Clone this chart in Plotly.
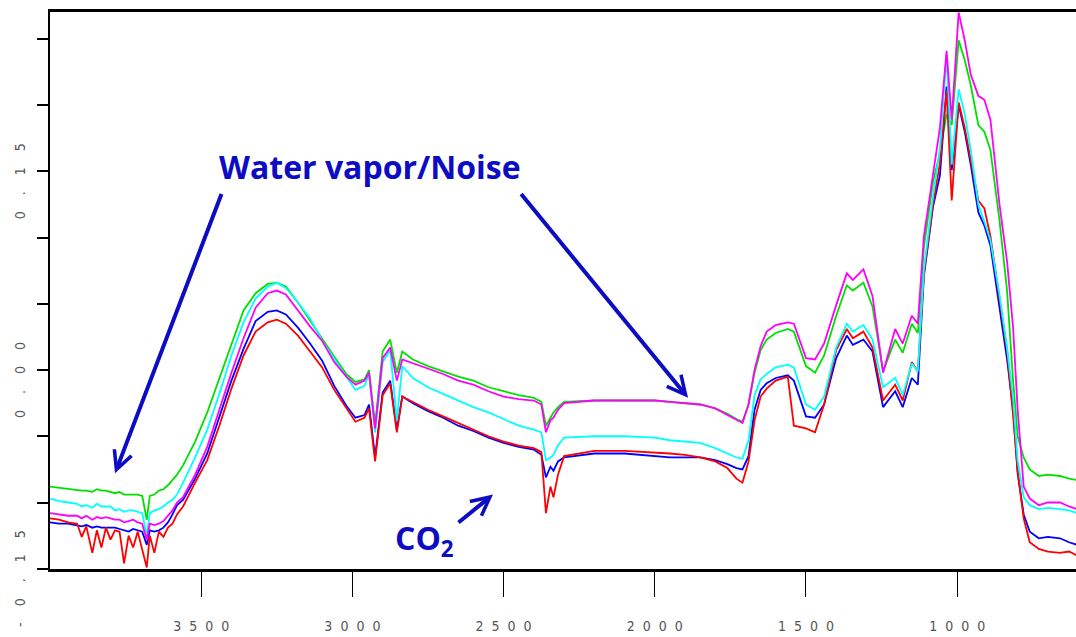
import plotly.graph_objects as go

# Wavenumber grid (cm-1) shared by all five spectra
wavenumber = [
    4000, 3970, 3940, 3910, 3895, 3880, 3860, 3845, 3830, 3815, 3800, 3785, 3770, 3755,
    3740, 3725, 3710, 3695, 3680, 3670, 3655, 3640, 3625, 3610, 3595, 3580, 3560, 3520,
    3480, 3440, 3400, 3360, 3320, 3280, 3250, 3220, 3180, 3140, 3100, 3060, 3020, 2990,
    2960, 2945, 2925, 2900, 2875, 2853, 2835, 2800, 2750, 2700, 2650, 2600, 2550, 2500,
    2450, 2400, 2375, 2360, 2345, 2335, 2320, 2300, 2200, 2100, 2000, 1950, 1900, 1850,
    1800, 1760, 1730, 1710, 1690, 1670, 1650, 1630, 1600, 1560, 1540, 1500, 1470, 1440,
    1400, 1365, 1345, 1310, 1280, 1245, 1205, 1180, 1150, 1130, 1110, 1080, 1057, 1035,
    1018, 995, 975, 955, 930, 910, 890, 860, 835, 815, 800, 780, 760, 730, 700, 660, 630, 603,
]

green = [
    -0.088, -0.089, -0.090, -0.091, -0.091, -0.091, -0.092, -0.090, -0.091, -0.091, -0.092, -0.093, -0.092, -0.094,
    -0.094, -0.094, -0.094, -0.095, -0.113, -0.095, -0.094, -0.091, -0.090, -0.087, -0.083, -0.079, -0.072, -0.054,
    -0.032, -0.006, 0.020, 0.045, 0.058, 0.065, 0.066, 0.063, 0.051, 0.037, 0.024, 0.010, -0.003, -0.009,
    -0.007, 0.000, -0.042, 0.014, 0.023, -0.002, 0.014, 0.008, 0.003, -0.001, -0.005, -0.008, -0.013, -0.016,
    -0.019, -0.021, -0.024, -0.042, -0.036, -0.032, -0.028, -0.024, -0.023, -0.023, -0.023, -0.024, -0.025, -0.026,
    -0.029, -0.033, -0.037, -0.039, -0.026, -0.002, 0.015, 0.023, 0.028, 0.031, 0.029, 0.003, -0.002, 0.011,
    0.041, 0.064, 0.060, 0.066, 0.048, -0.001, 0.023, 0.013, 0.035, 0.028, 0.093, 0.142, 0.164, 0.193,
    0.185, 0.249, 0.234, 0.215, 0.185, 0.180, 0.166, 0.113, 0.060, -0.008, -0.050, -0.066, -0.075, -0.080, -0.079, -0.080, -0.082, -0.083,
]

cyan = [
    -0.097, -0.099, -0.100, -0.101, -0.103, -0.102, -0.104, -0.101, -0.103, -0.103, -0.103, -0.106, -0.105, -0.107,
    -0.106, -0.106, -0.107, -0.108, -0.125, -0.108, -0.106, -0.105, -0.103, -0.100, -0.098, -0.094, -0.085, -0.066,
    -0.045, -0.018, 0.011, 0.036, 0.054, 0.063, 0.066, 0.062, 0.051, 0.039, 0.022, 0.008, -0.005, -0.015,
    -0.012, -0.003, -0.047, 0.006, 0.015, -0.038, 0.003, -0.006, -0.013, -0.018, -0.023, -0.028, -0.032, -0.037,
    -0.042, -0.045, -0.047, -0.068, -0.066, -0.064, -0.057, -0.051, -0.050, -0.050, -0.051, -0.053, -0.054, -0.055,
    -0.059, -0.063, -0.066, -0.067, -0.053, -0.019, -0.007, -0.003, 0.002, 0.004, 0.002, -0.026, -0.030, -0.020,
    0.017, 0.035, 0.029, 0.034, 0.023, -0.013, -0.006, -0.019, 0.005, -0.001, 0.076, 0.131, 0.167, 0.238,
    0.155, 0.212, 0.193, 0.166, 0.125, 0.112, 0.098, 0.057, 0.017, -0.021, -0.068, -0.096, -0.102, -0.105, -0.104, -0.105, -0.106, -0.108,
]

magenta = [
    -0.108, -0.109, -0.110, -0.110, -0.112, -0.110, -0.113, -0.111, -0.112, -0.111, -0.112, -0.113, -0.113, -0.115,
    -0.114, -0.113, -0.115, -0.116, -0.128, -0.116, -0.117, -0.116, -0.114, -0.110, -0.106, -0.100, -0.096, -0.079,
    -0.058, -0.030, -0.002, 0.024, 0.047, 0.058, 0.060, 0.057, 0.045, 0.033, 0.022, 0.006, -0.005, -0.011,
    -0.008, -0.002, -0.044, 0.009, 0.017, -0.008, 0.008, 0.005, 0.001, -0.003, -0.008, -0.011, -0.016, -0.020,
    -0.022, -0.023, -0.026, -0.047, -0.038, -0.036, -0.030, -0.025, -0.023, -0.023, -0.023, -0.024, -0.025, -0.026,
    -0.029, -0.034, -0.038, -0.040, -0.026, 0.000, 0.018, 0.029, 0.034, 0.036, 0.035, 0.009, 0.008, 0.020,
    0.049, 0.073, 0.068, 0.076, 0.056, -0.002, 0.031, 0.020, 0.041, 0.035, 0.101, 0.147, 0.183, 0.241,
    0.189, 0.270, 0.249, 0.223, 0.207, 0.204, 0.189, 0.125, 0.082, 0.032, -0.030, -0.088, -0.097, -0.102, -0.100, -0.100, -0.103, -0.105,
]

blue = [
    -0.115, -0.116, -0.116, -0.117, -0.118, -0.117, -0.119, -0.118, -0.119, -0.119, -0.119, -0.119, -0.120, -0.121,
    -0.122, -0.120, -0.121, -0.122, -0.132, -0.121, -0.122, -0.121, -0.119, -0.115, -0.109, -0.102, -0.098, -0.082,
    -0.063, -0.035, -0.008, 0.016, 0.037, 0.044, 0.045, 0.042, 0.032, 0.020, 0.007, -0.012, -0.027, -0.036,
    -0.034, -0.026, -0.066, -0.017, -0.008, -0.045, -0.020, -0.025, -0.031, -0.036, -0.042, -0.046, -0.051, -0.055,
    -0.058, -0.060, -0.064, -0.081, -0.073, -0.076, -0.069, -0.066, -0.063, -0.063, -0.065, -0.066, -0.066, -0.066,
    -0.068, -0.071, -0.074, -0.075, -0.065, -0.030, -0.015, -0.010, -0.006, -0.004, -0.008, -0.035, -0.036, -0.026,
    0.009, 0.026, 0.019, 0.023, 0.014, -0.028, -0.016, -0.028, -0.006, -0.011, 0.071, 0.123, 0.147, 0.214,
    0.151, 0.200, 0.180, 0.155, 0.119, 0.109, 0.094, 0.049, 0.008, -0.030, -0.078, -0.109, -0.122, -0.127, -0.126, -0.127, -0.130, -0.132,
]

red = [
    -0.112, -0.113, -0.115, -0.116, -0.126, -0.118, -0.138, -0.121, -0.134, -0.119, -0.128, -0.121, -0.122, -0.146,
    -0.125, -0.134, -0.122, -0.136, -0.149, -0.125, -0.138, -0.122, -0.126, -0.119, -0.116, -0.109, -0.103, -0.085,
    -0.068, -0.042, -0.014, 0.011, 0.029, 0.036, 0.038, 0.035, 0.026, 0.014, 0.002, -0.015, -0.029, -0.039,
    -0.036, -0.029, -0.069, -0.019, -0.010, -0.047, -0.020, -0.024, -0.030, -0.035, -0.040, -0.045, -0.050, -0.054,
    -0.057, -0.059, -0.062, -0.108, -0.088, -0.096, -0.079, -0.065, -0.061, -0.061, -0.062, -0.063, -0.064, -0.066,
    -0.069, -0.074, -0.082, -0.085, -0.069, -0.038, -0.020, -0.014, -0.008, -0.005, -0.042, -0.044, -0.047, -0.026,
    0.015, 0.031, 0.024, 0.029, 0.017, -0.023, -0.011, -0.023, 0.006, -0.001, 0.073, 0.125, 0.156, 0.211,
    0.128, 0.202, 0.183, 0.159, 0.128, 0.122, 0.101, 0.054, 0.015, -0.034, -0.076, -0.112, -0.130, -0.135, -0.137, -0.138, -0.137, -0.140,
]

series = [
    ("green", green, "#00e000"),
    ("blue", blue, "#0000ff"),
    ("red", red, "#ff0000"),
    ("cyan", cyan, "#00ffff"),
    ("magenta", magenta, "#ff00ff"),
]

# Axis ticks
nb2 = "\u00a0" * 2
x_ticks = [3500, 3000, 2500, 2000, 1500, 1000]
x_tick_text = [nb2.join(str(t)) for t in x_ticks]
y_ticks = [-0.15, -0.10, -0.05, 0.00, 0.05, 0.10, 0.15, 0.20, 0.25]
nb4 = "\u00a0" * 4
y_tick_text = [nb4.join("-0.15"), "", "", nb4.join("0.00"), "", "", nb4.join("0.15"), "", ""]

fig = go.Figure()
for name, vals, col in series:
    fig.add_trace(go.Scatter(
        x=wavenumber, y=vals, mode="lines", name=name,
        line=dict(color=col, width=1.8), hoverinfo="skip",
    ))

label_font = dict(family="Liberation Sans Narrow, DejaVu Sans Condensed, sans-serif", size=14, color="#555555")
note_color = "#0c0cc4"
note_font = dict(family="Open Sans, Lato, sans-serif", size=32, color=note_color)
arrow_style = dict(text="", showarrow=True, arrowhead=5, arrowsize=0.9, arrowwidth=4,
                   arrowcolor=note_color, xref="x", yref="y", axref="x", ayref="y")

fig.update_layout(
    width=1076, height=637,
    margin=dict(l=50, r=0, t=12, b=68),
    paper_bgcolor="white", plot_bgcolor="white",
    showlegend=False,
    xaxis=dict(
        range=[4000, 607], showgrid=False, zeroline=False,
        showline=True, linecolor="black", linewidth=3, mirror=True,
        ticks="outside", ticklen=25, tickwidth=1, tickcolor="black",
        tickvals=x_ticks, ticktext=x_tick_text, tickfont=label_font,
        ticklabelstandoff=17,
    ),
    yaxis=dict(
        range=[-0.1502, 0.2703], showgrid=False, zeroline=False,
        showline=True, linecolor="black", linewidth=2,
        ticks="outside", ticklen=11, tickwidth=2, tickcolor="black",
        tickvals=y_ticks, ticktext=y_tick_text, tickfont=label_font,
        tickangle=-90, ticklabelstandoff=6, ticklabelshift=12,
    ),
    annotations=[
        dict(x=2943, y=0.154, xref="x", yref="y", text="<b>Water vapor/Noise</b>",
             showarrow=False, font=note_font, xanchor="center", yanchor="middle"),
        dict(x=3785, y=-0.078, ax=3431, ay=0.134, **arrow_style),
        dict(x=1890, y=-0.021, ax=2446, ay=0.134, **arrow_style),
        dict(x=2535, y=-0.094, ax=2654, ay=-0.116, **arrow_style),
        dict(x=2760, y=-0.128, xref="x", yref="y", text="<b>CO<sub>2</sub></b>",
             showarrow=False, font=note_font, xanchor="center", yanchor="middle"),
    ],
)

fig.write_html("out.html")
